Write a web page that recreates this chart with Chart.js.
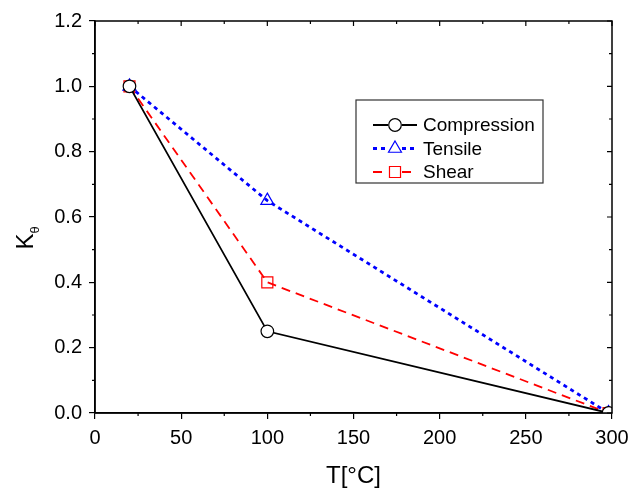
<!DOCTYPE html>
<html>
<head>
<meta charset="utf-8">
<script src="https://cdn.jsdelivr.net/npm/chart.js@4/dist/chart.umd.min.js"></script>
<style>
  html, body { margin: 0; padding: 0; background: #fff; }
  #wrap { width: 643px; height: 490px; }
</style>
</head>
<body>
<div id="wrap"><canvas id="chart" width="643" height="490"></canvas></div>
<script>
// Data
const temps = [20, 100, 298];
const compression = [1.0, 0.25, 0.0];
const tensile = [1.0, 0.65, 0.0];
const shear = [1.0, 0.40, 0.0];
const seriesNames = ['Compression', 'Tensile', 'Shear'];
const xTicks = [0, 50, 100, 150, 200, 250, 300];
const yTicks = [0.0, 0.2, 0.4, 0.6, 0.8, 1.0, 1.2];

const FONT = '"Liberation Sans", Arial, sans-serif';

function pts(ys) {
  return temps.map((t, i) => ({ x: t, y: ys[i] }));
}

// Frame, minor ticks, mirror ticks, axis titles and legend
const decorPlugin = {
  id: 'decor',
  afterDraw(chart) {
    const ctx = chart.ctx;
    const a = chart.chartArea;
    const xs = chart.scales.x;
    const ys = chart.scales.y;
    ctx.save();
    ctx.strokeStyle = '#000';
    ctx.lineWidth = 1.5;
    ctx.strokeRect(a.left, a.top, a.right - a.left, a.bottom - a.top);

    ctx.lineWidth = 1.2;
    ctx.beginPath();
    for (let v = 0; v <= 300; v += 25) {
      const px = xs.getPixelForValue(v);
      const major = v % 50 === 0;
      if (!major) {
        ctx.moveTo(px, a.bottom); ctx.lineTo(px, a.bottom + 3);
      }
      ctx.moveTo(px, a.top); ctx.lineTo(px, a.top + (major ? 5 : 3));
    }
    for (let i = 0; i <= 12; i++) {
      const v = i / 10;
      const py = ys.getPixelForValue(v);
      const major = i % 2 === 0;
      if (!major) {
        ctx.moveTo(a.left, py); ctx.lineTo(a.left - 3, py);
      }
      ctx.moveTo(a.right, py); ctx.lineTo(a.right - (major ? 5 : 3), py);
    }
    ctx.stroke();

    // axis titles
    ctx.fillStyle = '#000';
    ctx.font = '24px ' + FONT;
    ctx.textAlign = 'center';
    ctx.textBaseline = 'alphabetic';
    ctx.fillText('T[°C]', (a.left + a.right) / 2, 483);

    ctx.save();
    ctx.translate(33, 238);
    ctx.rotate(-Math.PI / 2);
    ctx.textAlign = 'left';
    ctx.font = '24px ' + FONT;
    const kw = ctx.measureText('K').width;
    const thetaFont = '13px ' + FONT;
    ctx.font = thetaFont;
    const tw = ctx.measureText('θ').width;
    const start = -(kw + tw) / 2;
    ctx.font = '24px ' + FONT;
    ctx.fillText('K', start, 0);
    ctx.font = thetaFont;
    ctx.fillText('θ', start + kw, 6);
    ctx.restore();

    // legend box
    const lx = 356, ly = 100, lw = 187, lh = 83;
    ctx.lineWidth = 1.2;
    ctx.strokeStyle = '#333';
    ctx.fillStyle = '#fff';
    ctx.fillRect(lx, ly, lw, lh);
    ctx.strokeRect(lx, ly, lw, lh);
    ctx.font = '19px ' + FONT;
    ctx.textAlign = 'left';
    ctx.textBaseline = 'middle';
    chart.data.datasets.forEach((ds, i) => {
      const cy = 125 + i * 23.5;
      const x0 = 373, x1 = 417, xm = (x0 + x1) / 2;
      ctx.save();
      ctx.strokeStyle = ds.borderColor;
      ctx.lineWidth = ds.borderWidth;
      ctx.setLineDash(ds.borderDash || []);
      ctx.beginPath();
      ctx.moveTo(x0, cy); ctx.lineTo(xm - 7, cy);
      ctx.moveTo(xm + 7, cy); ctx.lineTo(x1, cy);
      ctx.stroke();
      ctx.restore();
      ctx.save();
      ctx.strokeStyle = ds.pointBorderColor;
      ctx.fillStyle = '#fff';
      ctx.lineWidth = 1.2;
      Chart.helpers.drawPoint(ctx, {
        pointStyle: ds.pointStyle,
        radius: ds.pointRadius,
        rotation: 0,
        borderWidth: 1.2
      }, xm, cy);
      ctx.restore();
      ctx.fillStyle = '#000';
      ctx.fillText(ds.label, 423, cy + 1);
    });
    ctx.restore();
  }
};

const chart = new Chart(document.getElementById('chart').getContext('2d'), {
  type: 'line',
  data: {
    datasets: [
      {
        label: seriesNames[0],
        data: pts(compression),
        borderColor: '#000',
        borderWidth: 1.8,
        pointStyle: 'circle',
        pointRadius: 6.3,
        pointBorderColor: '#000',
        pointBackgroundColor: '#fff',
        pointBorderWidth: 1.2
      },
      {
        label: seriesNames[1],
        data: pts(tensile),
        borderColor: '#0000ff',
        borderWidth: 2.8,
        borderDash: [4, 4],
        pointStyle: 'triangle',
        pointRadius: 7.5,
        pointBorderColor: '#0000ff',
        pointBackgroundColor: 'rgba(255,255,255,0)',
        pointBorderWidth: 1.2
      },
      {
        label: seriesNames[2],
        data: pts(shear),
        borderColor: '#ff0000',
        borderWidth: 1.8,
        borderDash: [9, 6],
        pointStyle: 'rect',
        pointRadius: 7.8,
        pointBorderColor: '#ff0000',
        pointBackgroundColor: 'rgba(255,255,255,0)',
        pointBorderWidth: 1.2
      }
    ]
  },
  options: {
    responsive: false,
    animation: false,
    layout: { padding: { top: 21, right: 31, left: 0, bottom: 0 } },
    plugins: { legend: { display: false }, tooltip: { enabled: false } },
    scales: {
      x: {
        type: 'linear',
        min: 0, max: 300,
        afterBuildTicks(s) { s.ticks = xTicks.map(v => ({ value: v })); },
        afterFit(s) { s.height = 77; },
        ticks: { color: '#000', font: { family: FONT, size: 20 }, padding: 7, maxRotation: 0 },
        grid: { display: true, drawOnChartArea: false, tickLength: 6, color: '#000', lineWidth: 1.2 },
        border: { display: true, color: '#000', width: 1.5 }
      },
      y: {
        type: 'linear',
        min: 0, max: 1.2,
        afterBuildTicks(s) { s.ticks = yTicks.map(v => ({ value: v })); },
        afterFit(s) { s.width = 95; },
        ticks: { color: '#000', font: { family: FONT, size: 20 }, padding: 7, callback: v => v.toFixed(1) },
        grid: { display: true, drawOnChartArea: false, tickLength: 6, color: '#000', lineWidth: 1.2 },
        border: { display: true, color: '#000', width: 1.5 }
      }
    }
  },
  plugins: [decorPlugin]
});
</script>
</body>
</html>
